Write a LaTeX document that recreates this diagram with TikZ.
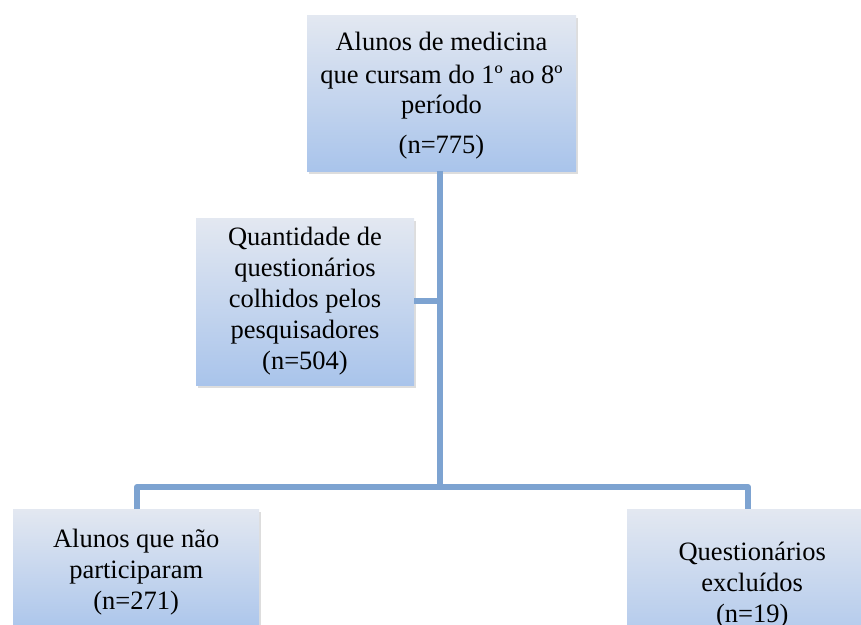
\documentclass[tikz,border=0pt]{standalone}
\usepackage{fontspec}
\setmainfont{Liberation Serif}
\usetikzlibrary{shadows}
\definecolor{boxtop}{HTML}{E3E8F1}
\definecolor{boxbot}{HTML}{A9C4EB}
\definecolor{linkc}{HTML}{7DA3D1}
\begin{document}
\begin{tikzpicture}[x=1pt,y=1pt,
  box/.style={rectangle, inner sep=0pt, top color=boxtop, bottom color=boxbot,
    draw=none, align=center, font=\fontsize{26.5}{31}\selectfont,
    drop shadow={shadow xshift=2pt, shadow yshift=-3pt, opacity=0.22, fill=black!60}},
  txt/.style={inner sep=0pt, align=center, font=\fontsize{26.5}{30}\selectfont},
  link/.style={draw=linkc, line width=6pt}]
\useasboundingbox (0,0) rectangle (861,-624);
\clip (0,0) rectangle (861,-624);
% boxes
\node[box, minimum width=269pt, minimum height=156pt] (top) at (441.5,-93) {};
\node[txt] (toptext) at (441.5,-96) {Alunos de medicina\\[3pt]que cursam do 1º ao 8º\\período\\[10pt](n=775)};
\node[box, minimum width=218pt, minimum height=167pt] (mid) at (305,-301.5)
  {Quantidade de\\questionários\\colhidos pelos\\pesquisadores\\(n=504)};
\node[box, minimum width=246pt, minimum height=126pt, anchor=north west] (left) at (13,-509)
  {Alunos que não\\participaram\\(n=271)};
\node[box, minimum width=250pt, minimum height=152pt, anchor=north west] (right) at (627,-509)
  {Questionários\\excluídos\\(n=19)};
% connectors
\coordinate (trunk) at (440,-487);
\coordinate (midj) at (440,-301);
\coordinate (lcorner) at (137,-487);
\coordinate (rcorner) at (748,-487);
\draw[link] (top.south -| trunk) -- (trunk);
\draw[link] (mid.east |- midj) -- (midj);
\draw[link, line join=round] (left.north -| lcorner) -- (lcorner) -- (rcorner) -- (right.north -| rcorner);
\end{tikzpicture}
\end{document}
